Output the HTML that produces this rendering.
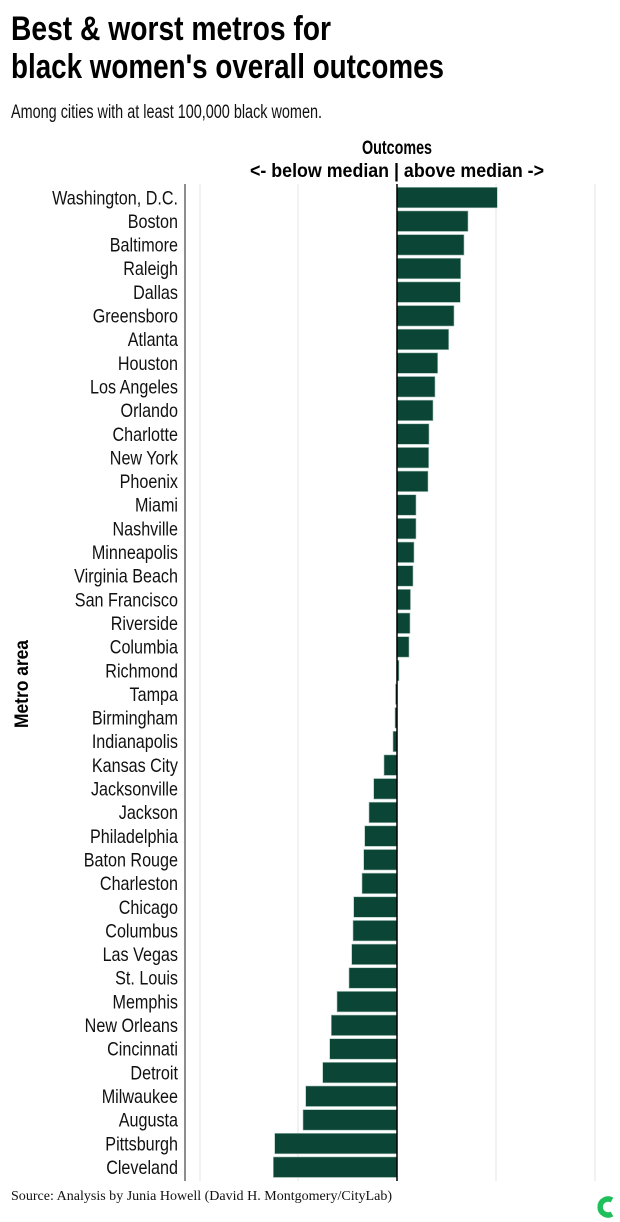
<!DOCTYPE html>
<html><head><meta charset="utf-8"><style>
html,body{margin:0;padding:0;background:#fff;width:620px;height:1222px;overflow:hidden}
svg{display:block}
.t{font-family:"Liberation Sans",sans-serif;font-weight:bold;fill:#000}
.l{font-family:"Liberation Sans",sans-serif;font-size:19px;fill:#111}
</style></head><body>
<svg width="620" height="1222" xmlns="http://www.w3.org/2000/svg">
<text class="t" x="11" y="40" font-size="34" textLength="320" lengthAdjust="spacingAndGlyphs">Best &amp; worst metros for</text>
<text class="t" x="11" y="78" font-size="34" textLength="433" lengthAdjust="spacingAndGlyphs">black women's overall outcomes</text>
<text class="l" x="11" y="118" font-size="19" textLength="311" lengthAdjust="spacingAndGlyphs">Among cities with at least 100,000 black women.</text>
<text class="t" x="397" y="154" font-size="19" text-anchor="middle" textLength="70" lengthAdjust="spacingAndGlyphs">Outcomes</text>
<text class="t" x="250" y="177" font-size="19" textLength="294" lengthAdjust="spacingAndGlyphs">&lt;- below median | above median -&gt;</text>
<text class="t" font-size="19" transform="translate(28,684) rotate(-90)" text-anchor="middle" textLength="88" lengthAdjust="spacingAndGlyphs">Metro area</text>
<g stroke="#e6e6e6" stroke-width="1">
<line x1="200" y1="184" x2="200" y2="1181"/><line x1="298" y1="184" x2="298" y2="1181"/>
<line x1="496" y1="184" x2="496" y2="1181"/><line x1="595" y1="184" x2="595" y2="1181"/>
</g>
<line x1="185" y1="184" x2="185" y2="1181" stroke="#444" stroke-width="1.2"/>
<g id="bars" fill="#0b4536" stroke="#a9c4bb" stroke-width="0.6"></g>
<g id="labs" transform="scale(0.85,1)"></g>
<line x1="397" y1="184" x2="397" y2="1181" stroke="#000" stroke-width="1.5"/>
<text x="11" y="1200" font-family="'Liberation Serif',serif" font-size="13.5" fill="#111" textLength="381" lengthAdjust="spacingAndGlyphs">Source: Analysis by Junia Howell (David H. Montgomery/CityLab)</text>
<path d="M612 1200 A8 8 0 1 0 612 1214" fill="none" stroke="#1fbf5a" stroke-width="5.5"/>
<script>
var d=[["Washington, D.C.",497.3],["Boston",468],["Baltimore",464],["Raleigh",460.7],["Dallas",460.3],["Greensboro",454],["Atlanta",448.7],["Houston",437.7],["Los Angeles",435],["Orlando",433],["Charlotte",429],["New York",428.7],["Phoenix",428],["Miami",416],["Nashville",416],["Minneapolis",414],["Virginia Beach",413],["San Francisco",410.5],["Riverside",410],["Columbia",409],["Richmond",399],["Tampa",395.5],["Birmingham",395],["Indianapolis",393],["Kansas City",384],["Jacksonville",373.7],["Jackson",369],["Philadelphia",364.7],["Baton Rouge",363.7],["Charleston",362],["Chicago",353.7],["Columbus",353],["Las Vegas",351.7],["St. Louis",349],["Memphis",337],["New Orleans",331.3],["Cincinnati",329.7],["Detroit",322.7],["Milwaukee",305.7],["Augusta",303],["Pittsburgh",274.7],["Cleveland",273.3]];
var ns="http://www.w3.org/2000/svg",b=document.getElementById("bars"),L=document.getElementById("labs");
d.forEach(function(r,i){var y=187.3+i*23.65;var x0=Math.min(397,r[1]),w=Math.abs(r[1]-397);
var e=document.createElementNS(ns,"rect");e.setAttribute("x",x0);e.setAttribute("y",y);e.setAttribute("width",Math.max(w,1));e.setAttribute("height",20.5);b.appendChild(e);
var t=document.createElementNS(ns,"text");t.setAttribute("class","l");t.setAttribute("x",178/0.85);t.setAttribute("y",y+17);t.setAttribute("text-anchor","end");t.textContent=r[0];L.appendChild(t);});
</script>
</svg>
</body></html>
